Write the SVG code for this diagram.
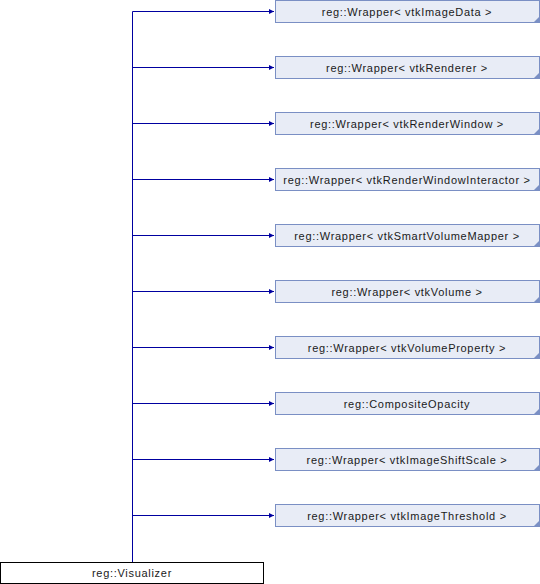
<svg xmlns="http://www.w3.org/2000/svg" width="540" height="584" viewBox="0 0 540 584">
<style>
.n rect{fill:#e8ecf6;stroke:#7a8fc4;stroke-width:1}
.n path{fill:#7a8fc4}
text{font-family:"Liberation Sans",Arial,sans-serif;font-size:11px;fill:#1a1a1a;text-anchor:middle;letter-spacing:0.7px}
.e{stroke:#0000a0;stroke-width:1;fill:none}
</style>
<defs>
<marker id="a" markerWidth="6" markerHeight="6" refX="5" refY="3" orient="auto" markerUnits="userSpaceOnUse">
<path d="M0,0.5 L5,3 L0,5.5 Z" fill="#0000a0"/>
</marker>
</defs>
<g id="connectors">
<path class="e" d="M132.5,562 V11.5"/>
<path class="e" d="M132.5,11.5 H274" marker-end="url(#a)"/>
<path class="e" d="M132.5,67.5 H274" marker-end="url(#a)"/>
<path class="e" d="M132.5,123.5 H274" marker-end="url(#a)"/>
<path class="e" d="M132.5,179.5 H274" marker-end="url(#a)"/>
<path class="e" d="M132.5,235.5 H274" marker-end="url(#a)"/>
<path class="e" d="M132.5,291.5 H274" marker-end="url(#a)"/>
<path class="e" d="M132.5,347.5 H274" marker-end="url(#a)"/>
<path class="e" d="M132.5,403.5 H274" marker-end="url(#a)"/>
<path class="e" d="M132.5,459.5 H274" marker-end="url(#a)"/>
<path class="e" d="M132.5,515.5 H274" marker-end="url(#a)"/>
</g>
<g id="n1" class="n"><rect x="275.5" y="0.5" width="264" height="22"/><path d="M539.5,16.5 V22.5 H533.5 Z"/><text x="407" y="15.5">reg::Wrapper&lt; vtkImageData &gt;</text></g>
<g id="n2" class="n"><rect x="275.5" y="56.5" width="264" height="22"/><path d="M539.5,72.5 V78.5 H533.5 Z"/><text x="407" y="71.5">reg::Wrapper&lt; vtkRenderer &gt;</text></g>
<g id="n3" class="n"><rect x="275.5" y="112.5" width="264" height="22"/><path d="M539.5,128.5 V134.5 H533.5 Z"/><text x="407" y="127.5">reg::Wrapper&lt; vtkRenderWindow &gt;</text></g>
<g id="n4" class="n"><rect x="275.5" y="168.5" width="264" height="22"/><path d="M539.5,184.5 V190.5 H533.5 Z"/><text x="407" y="183.5">reg::Wrapper&lt; vtkRenderWindowInteractor &gt;</text></g>
<g id="n5" class="n"><rect x="275.5" y="224.5" width="264" height="22"/><path d="M539.5,240.5 V246.5 H533.5 Z"/><text x="407" y="239.5">reg::Wrapper&lt; vtkSmartVolumeMapper &gt;</text></g>
<g id="n6" class="n"><rect x="275.5" y="280.5" width="264" height="22"/><path d="M539.5,296.5 V302.5 H533.5 Z"/><text x="407" y="295.5">reg::Wrapper&lt; vtkVolume &gt;</text></g>
<g id="n7" class="n"><rect x="275.5" y="336.5" width="264" height="22"/><path d="M539.5,352.5 V358.5 H533.5 Z"/><text x="407" y="351.5">reg::Wrapper&lt; vtkVolumeProperty &gt;</text></g>
<g id="n8" class="n"><rect x="275.5" y="392.5" width="264" height="22"/><path d="M539.5,408.5 V414.5 H533.5 Z"/><text x="407" y="407.5">reg::CompositeOpacity</text></g>
<g id="n9" class="n"><rect x="275.5" y="448.5" width="264" height="22"/><path d="M539.5,464.5 V470.5 H533.5 Z"/><text x="407" y="463.5">reg::Wrapper&lt; vtkImageShiftScale &gt;</text></g>
<g id="n10" class="n"><rect x="275.5" y="504.5" width="264" height="22"/><path d="M539.5,520.5 V526.5 H533.5 Z"/><text x="407" y="519.5">reg::Wrapper&lt; vtkImageThreshold &gt;</text></g>
<g id="n0"><rect x="0.5" y="562.5" width="263" height="21" fill="#fff" stroke="#000"/><text x="132" y="577">reg::Visualizer</text></g>
</svg>
